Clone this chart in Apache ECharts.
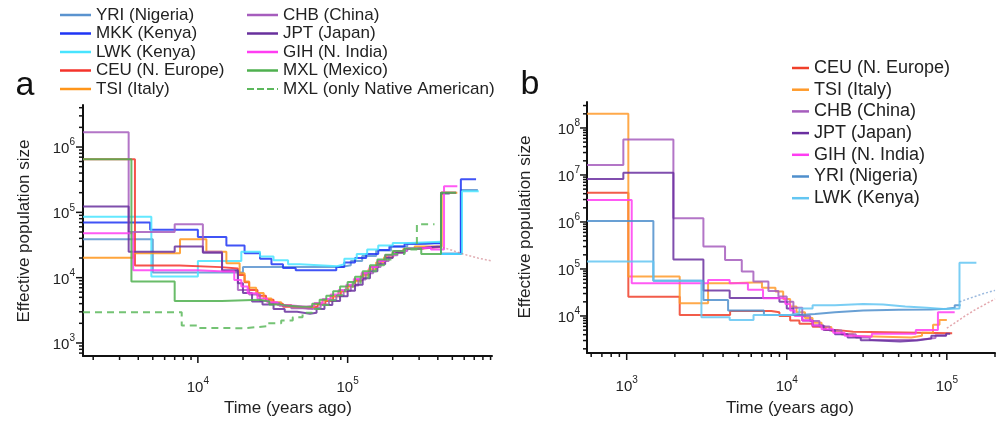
<!DOCTYPE html>
<html><head><meta charset="utf-8">
<script src="https://cdn.jsdelivr.net/npm/echarts@6/dist/echarts.min.js"></script>
<style>html,body{margin:0;padding:0;background:#fff}#c{width:998px;height:422px}</style>
</head><body><div id="c"></div>
<script>
// ---------- Panel a data: [time (years ago), effective population size] ----------
const yriA = [[1710,3.87e4],[5000,1.2e4],[2.0e4,1.45e4],[9.0e4,1.55e4],[1.05e5,1.8e4],[1.25e5,2.15e4],[1.55e5,2.6e4],[1.95e5,3.0e4],[2.5e5,3.3e4],[3.3e5,3.45e4],[4.2e5,2.35e4],[5.7e5,2.2e5],[7.4e5,2.2e5]];
const mkkA = [[1710,7.0e4],[4800,5.4e4],[1.0e4,4.2e4],[1.55e4,3.1e4],[2.05e4,2.36e4],[2.6e4,1.95e4],[3.1e4,1.6e4],[3.7e4,1.4e4],[4.5e4,1.3e4],[8.4e4,1.45e4],[9.5e4,1.7e4],[1.12e5,2.0e4],[1.33e5,2.3e4],[1.6e5,2.65e4],[1.9e5,3.0e4],[2.4e5,3.3e4],[3.0e5,3.4e4],[4.2e5,2.3e4],[5.7e5,3.2e5],[7.2e5,3.2e5]];
const lwkA = [[1710,8.6e4],[4890,1.04e4],[1.0e4,1.8e4],[1.95e4,2.5e4],[2.6e4,2.1e4],[3.2e4,1.85e4],[4.0e4,1.6e4],[4.8e4,1.5e4],[8.5e4,1.6e4],[9.5e4,1.95e4],[1.15e5,2.3e4],[1.35e5,2.7e4],[1.6e5,3.1e4],[2.0e5,3.4e4],[2.6e5,3.55e4],[4.2e5,2.3e4],[5.8e5,2.1e5],[7.5e5,2.1e5]];
const ceuA = [[1710,6.5e5],[3800,1.53e4],[7550,1.45e4],[1.43e4,1.38e4],[1.85e4,1.1e4],[2.05e4,8.5e3],[2.2e4,6.5e3],[2.5e4,5.3e3],[2.85e4,4.6e3],[3.2e4,4.0e3],[3.7e4,3.6e3],[4.3e4,3.4e3],[5.5e4,3.6e3],[6.3e4,3.9e3],[7.1e4,4.4e3],[8.0e4,5.2e3],[9.0e4,6.2e3],[1.0e5,7.5e3],[1.12e5,9.2e3],[1.26e5,1.15e4],[1.41e5,1.45e4],[1.6e5,1.8e4],[1.8e5,2.2e4],[2.05e5,2.5e4],[2.4e5,2.75e4],[2.9e5,2.95e4],[4.2e5,2.0e5],[5.3e5,2.0e5]];
const tsiA = [[1710,2.02e4],[3700,2.36e4],[7600,3.87e4],[1.14e4,2.5e4],[1.55e4,1.66e4],[1.9e4,1.17e4],[2.05e4,8.7e3],[2.2e4,7.0e3],[2.45e4,5.8e3],[2.75e4,4.8e3],[3.1e4,4.2e3],[3.6e4,3.8e3],[4.2e4,3.5e3],[5.2e4,3.6e3],[6.0e4,4.0e3],[6.8e4,4.5e3],[7.7e4,5.2e3],[8.7e4,6.2e3],[9.8e4,7.3e3],[1.1e5,8.8e3],[1.23e5,1.08e4],[1.38e5,1.35e4],[1.55e5,1.7e4],[1.75e5,2.05e4],[2.0e5,2.45e4],[2.35e5,2.75e4],[2.8e5,3.0e4],[4.25e5,2.0e5],[5.4e5,2.0e5]];
const chbA = [[1710,1.69e6],[3450,5.0e4],[7000,6.6e4],[1.08e4,2.5e4],[1.45e4,1.25e4],[1.85e4,6.5e3],[2.2e4,5.5e3],[2.6e4,4.4e3],[3.0e4,4.1e3],[3.5e4,3.7e3],[4.2e4,3.4e3],[5.0e4,3.3e3],[5.8e4,3.5e3],[6.6e4,3.9e3],[7.5e4,4.5e3],[8.4e4,5.3e3],[9.4e4,6.3e3],[1.05e5,7.6e3],[1.18e5,9.4e3],[1.32e5,1.17e4],[1.48e5,1.45e4],[1.66e5,1.8e4],[1.88e5,2.2e4],[2.15e5,2.55e4],[2.5e5,2.8e4],[3.0e5,3.0e4],[4.2e5,2.0e5],[5.3e5,2.0e5]];
const jptA = [[1710,1.23e5],[3450,2.5e4],[7000,2.99e4],[1.08e4,2.4e4],[1.45e4,1.3e4],[1.85e4,8.2e3],[2.0e4,5.8e3],[2.3e4,4.3e3],[2.7e4,3.9e3],[3.2e4,3.3e3],[3.8e4,3.0e3],[4.6e4,2.8e3],[5.6e4,2.9e3],[6.2e4,3.3e3],[7.0e4,3.8e3],[7.9e4,4.4e3],[8.9e4,5.2e3],[1.0e5,6.3e3],[1.12e5,7.8e3],[1.26e5,9.8e3],[1.41e5,1.25e4],[1.58e5,1.6e4],[1.78e5,2.0e4],[2.0e5,2.4e4],[2.4e5,2.75e4],[2.9e5,2.95e4],[3.6e5,3.0e4],[4.2e5,1.95e5],[4.8e5,1.95e5]];
const gihA = [[1710,4.78e4],[3700,1.3e4],[1.0e4,1.24e4],[1.5e4,1.25e4],[1.75e4,9.2e3],[1.95e4,7.3e3],[2.15e4,5.75e3],[2.5e4,4.8e3],[2.9e4,4.2e3],[3.4e4,3.8e3],[3.9e4,3.6e3],[5.3e4,3.7e3],[6.0e4,4.1e3],[6.8e4,4.7e3],[7.7e4,5.5e3],[8.7e4,6.5e3],[9.8e4,7.8e3],[1.1e5,9.5e3],[1.24e5,1.18e4],[1.4e5,1.45e4],[1.58e5,1.8e4],[1.78e5,2.2e4],[2.05e5,2.55e4],[2.45e5,2.8e4],[3.0e5,2.9e4],[3.6e5,2.7e4],[4.4e5,2.5e5],[5.4e5,2.5e5]];
const mxlA = [[1710,6.5e5],[3600,8.7e3],[7000,4.4e3],[1.45e4,4.6e3],[2.6e4,4.3e3],[3.0e4,3.9e3],[3.5e4,3.7e3],[4.1e4,3.6e3],[5.0e4,3.6e3],[5.8e4,4.0e3],[6.5e4,4.6e3],[7.2e4,5.3e3],[8.0e4,6.2e3],[8.9e4,7.3e3],[1.0e5,8.6e3],[1.12e5,1.03e4],[1.26e5,1.25e4],[1.41e5,1.55e4],[1.58e5,1.9e4],[1.78e5,2.25e4],[2.0e5,2.55e4],[2.4e5,2.8e4],[3.1e5,2.3e4],[4.2e5,2.0e5],[5.3e5,2.0e5]];
const mxlNatA = [[1710,2.95e3],[7800,1.85e3],[1.0e4,1.7e3],[1.33e4,1.68e3],[2.0e4,1.8e3],[2.87e4,2.0e3],[3.6e4,2.2e3],[4.3e4,2.47e3],[5.0e4,2.9e3],[5.8e4,3.3e3],[6.6e4,3.8e3],[7.5e4,4.5e3],[8.5e4,5.4e3],[9.6e4,6.6e3],[1.08e5,8.2e3],[1.22e5,1.0e4],[1.38e5,1.25e4],[1.55e5,1.55e4],[1.75e5,1.9e4],[2.0e5,2.3e4],[2.4e5,2.7e4],[2.9e5,6.6e4],[3.8e5,6.6e4]];
const fadeA = [[4.3e5,2.9e4],[4.8e5,2.7e4],[5.3e5,2.5e4],[5.9e5,2.3e4],[6.6e5,2.15e4],[7.4e5,2.0e4],[8.2e5,1.9e4],[9.2e5,1.8e4]];

// ---------- Panel b data ----------
const ceuB = [[565,4.2e6],[1024,2.58e4],[2144,1.05e4],[4428,1.28e4],[8000,1.2e4],[9000,1.0e4],[1.05e4,8.0e3],[1.2e4,6.8e3],[1.45e4,5.9e3],[1.75e4,5.0e3],[2.1e4,4.6e3],[2.6e4,4.3e3],[1.08e5,4.3e3]];
const tsiB = [[565,2.0e8],[1024,6.9e4],[2144,1.86e4],[3225,4.96e4],[4400,5.2e4],[7000,4.0e4],[8500,3.3e4],[9500,2.3e4],[1.05e4,1.6e4],[1.15e4,1.2e4],[1.3e4,9.0e3],[1.45e4,7.2e3],[1.65e4,5.8e3],[1.9e4,4.8e3],[2.2e4,4.1e3],[2.6e4,3.7e3],[3.1e4,3.5e3],[6.0e4,3.8e3],[7.0e4,4.4e3],[8.2e4,6.5e3],[9.0e4,8.2e3],[1.0e5,8.2e3]];
const chbB = [[565,1.63e7],[953,5.7e7],[1958,1.2e6],[3015,3.0e5],[4116,1.55e5],[5236,8.8e4],[6190,5.4e4],[7680,3.4e4],[8870,2.6e4],[1.0e4,2.0e4],[1.1e4,1.5e4],[1.25e4,1.0e4],[1.4e4,7.8e3],[1.6e4,6.0e3],[1.85e4,4.9e3],[2.2e4,4.1e3],[2.7e4,3.5e3],[3.3e4,3.1e3],[5.0e4,3.1e3],[6.5e4,3.4e3],[8.5e4,3.9e3],[1.0e5,3.9e3]];
const jptB = [[565,8.2e6],[953,1.12e7],[1958,1.6e5],[3015,3.5e4],[4400,2.4e4],[9000,2.0e4],[1.0e4,1.45e4],[1.1e4,1.05e4],[1.25e4,8.0e3],[1.45e4,6.3e3],[1.7e4,5.0e3],[2.0e4,4.1e3],[2.4e4,3.5e3],[2.9e4,3.05e3],[3.4e4,2.85e3],[5.1e4,3.0e3],[6.5e4,3.3e3],[8.0e4,3.8e3],[9.9e4,4.2e3],[1.05e5,4.2e3]];
const gihB = [[565,2.94e6],[1075,4.96e4],[3225,5.8e4],[4400,4.96e4],[5720,3.6e4],[7110,2.38e4],[9800,1.8e4],[1.05e4,1.3e4],[1.12e4,1.0e4],[1.25e4,8.0e3],[1.45e4,6.3e3],[1.65e4,5.2e3],[1.95e4,4.4e3],[2.3e4,3.8e3],[2.6e4,3.6e3],[3.4e4,4.2e3],[6.4e4,5.0e3],[8.8e4,1.2e4],[1.12e5,1.2e4]];
const yriB = [[565,1.05e6],[1468,5.6e4],[3015,2.2e4],[4300,1.3e4],[7200,1.05e4],[1.2e4,1.1e4],[1.5e4,1.2e4],[2.0e4,1.3e4],[3.0e4,1.35e4],[5.0e4,1.38e4],[8.0e4,1.42e4],[1.0e5,1.5e4],[1.12e5,1.7e4],[1.22e5,1.7e4]];
const lwkB = [[565,1.45e5],[1468,5.6e4],[2930,9.4e3],[4400,8.2e3],[6200,1.05e4],[1.05e4,1.15e4],[1.2e4,1.45e4],[1.45e4,1.7e4],[2.0e4,1.8e4],[3.0e4,1.75e4],[4.0e4,1.6e4],[5.5e4,1.5e4],[7.5e4,1.4e4],[9.5e4,1.45e4],[1.2e5,1.35e5],[1.53e5,1.35e5]];
const fadeB1 = [[1.2e5,2.0e4],[1.35e5,2.3e4],[1.5e5,2.6e4],[1.7e5,3.0e4],[2.0e5,3.5e4]];
const fadeB2 = [[1.0e5,5.5e3],[1.15e5,7.5e3],[1.3e5,1.0e4],[1.5e5,1.35e4],[1.75e5,1.8e4],[2.0e5,2.3e4]];

// ---------- axes ranges & text ----------
const xRangeA = [1710, 9.2e5], yRangeA = [632, 4.4e6];
const xRangeB = [565, 2.0e5], yRangeB = [1630, 3.57e8];
const legendA1 = ['YRI (Nigeria)','MKK (Kenya)','LWK (Kenya)','CEU (N. Europe)','TSI (Italy)'];
const legendA2 = ['CHB (China)','JPT (Japan)','GIH (N. India)','MXL (Mexico)','MXL (only Native American)'];
const legendB = ['CEU (N. Europe)','TSI (Italy)','CHB (China)','JPT (Japan)','GIH (N. India)','YRI (Nigeria)','LWK (Kenya)'];

const FONT = '"Liberation Sans", Arial, Helvetica, sans-serif';
const TXT = '#222';
const DASH_ICON = 'path://M0,0h7v2h-7z M10,0h7v2h-7z M20,0h7v2h-7z M30,0h1v2h-1z';

function isPow10(v){ const l = Math.log10(v); return Math.abs(l - Math.round(l)) < 1e-6; }
function fmt(v){ if(!isPow10(v)) return ''; return '{b|10}{e|' + Math.round(Math.log10(v)) + '}'; }
const rich = {
  b:{fontSize:15, lineHeight:19, verticalAlign:'bottom', color:TXT, fontFamily:FONT},
  e:{fontSize:10, lineHeight:12, verticalAlign:'top', color:TXT, fontFamily:FONT}
};
function ticks(xr, yr){
  const out = [];
  for(let n=Math.floor(Math.log10(xr[0])); n<=Math.ceil(Math.log10(xr[1])); n++)
    for(let k=1;k<=9;k++){ const v=k*Math.pow(10,n); if(v>=xr[0]&&v<=xr[1]) out.push([v, yr[0], k===1?1:0]); }
  for(let n=Math.floor(Math.log10(yr[0])); n<=Math.ceil(Math.log10(yr[1])); n++)
    for(let k=1;k<=9;k++){ const v=k*Math.pow(10,n); if(v>=yr[0]&&v<=yr[1]) out.push([xr[0], v, k===1?3:2]); }
  return out;
}
function tickSeries(gi, xr, yr){
  return {type:'custom', xAxisIndex:gi, yAxisIndex:gi, silent:true, z:10, clip:false,
    encode:{x:0,y:1}, data: ticks(xr, yr),
    renderItem:function(params, api){
      const kind = api.value(2);
      const p = api.coord([api.value(0), api.value(1)]);
      let x2=p[0], y2=p[1];
      if(kind<2) y2 = p[1] + (kind===1?7:4); else x2 = p[0] - (kind===3?7:4);
      return {type:'line', shape:{x1:p[0], y1:p[1], x2:x2, y2:y2}, style:{stroke:'#111', lineWidth:1.5}};
    }};
}
function stepLine(name, data, color, gi, extra){
  return Object.assign({type:'line', name:name, data:data, step:'end', xAxisIndex:gi, yAxisIndex:gi,
    symbol:'none', lineStyle:{color:color, width:2, opacity:0.85}, itemStyle:{color:color}, z:3}, extra||{});
}
function axisX(gi, r, margin){
  return {type:'log', gridIndex:gi, min:r[0], max:r[1], logBase:10,
    axisLine:{show:true, onZero:false, lineStyle:{color:'#111', width:2}},
    axisTick:{show:false}, splitLine:{show:false}, minorTick:{show:false},
    axisLabel:{formatter:fmt, rich:rich, margin:margin, color:TXT}};
}
function axisY(gi, r, margin){
  return {type:'log', gridIndex:gi, min:r[0], max:r[1], logBase:10,
    axisLine:{show:true, onZero:false, lineStyle:{color:'#111', width:2}},
    axisTick:{show:false}, splitLine:{show:false}, minorTick:{show:false},
    axisLabel:{formatter:fmt, rich:rich, margin:margin, color:TXT}};
}
const legText = (fs)=>({fontSize:fs, lineHeight:fs, color:TXT, fontFamily:FONT});

const chart = echarts.init(document.getElementById('c'), null, {renderer:'canvas'});
const option = {
  animation:false,
  backgroundColor:'#fff',
  textStyle:{fontFamily:FONT},
  grid:[
    {left:83, top:105, width:409, height:251},
    {left:587, top:102, width:408, height:251}
  ],
  xAxis:[axisX(0, xRangeA, 20), axisX(1, xRangeB, 22)],
  yAxis:[axisY(0, yRangeA, 8), axisY(1, yRangeB, 7)],
  legend:[
    {orient:'vertical', left:60, top:6.5, padding:0, itemWidth:31, itemHeight:2.5, itemGap:1.5, selectedMode:false, icon:'rect',
      data:legendA1, textStyle:legText(17)},
    {orient:'vertical', left:247, top:6.5, padding:0, itemWidth:31, itemHeight:2.5, itemGap:1.5, selectedMode:false, icon:'rect',
      data:legendA2.map(n=> n==='MXL (only Native American)' ? {name:n, icon:DASH_ICON} : n), textStyle:legText(17)},
    {orient:'vertical', left:792, top:59, padding:0, itemWidth:17, itemHeight:2.5, itemGap:3.7, selectedMode:false, icon:'rect',
      data:legendB.map(n=>'b·'+n), formatter:(n)=>n.replace(/^b·/,''), textStyle:legText(18)}
  ],
  graphic:[
    {type:'text', x:25, y:86, style:{text:'a', fontSize:34, fontFamily:FONT, fill:'#111', align:'center', verticalAlign:'middle'}},
    {type:'text', x:530, y:85, style:{text:'b', fontSize:34, fontFamily:FONT, fill:'#111', align:'center', verticalAlign:'middle'}},
    {type:'text', x:288, y:408, style:{text:'Time (years ago)', fontSize:17, fontFamily:FONT, fill:TXT, align:'center', verticalAlign:'middle'}},
    {type:'text', x:790, y:408, style:{text:'Time (years ago)', fontSize:17, fontFamily:FONT, fill:TXT, align:'center', verticalAlign:'middle'}},
    {type:'text', x:24, y:231, rotation:Math.PI/2, style:{text:'Effective population size', fontSize:17, fontFamily:FONT, fill:TXT, align:'center', verticalAlign:'middle'}},
    {type:'text', x:525, y:227, rotation:Math.PI/2, style:{text:'Effective population size', fontSize:17, fontFamily:FONT, fill:TXT, align:'center', verticalAlign:'middle'}}
  ],
  series:[
    stepLine('YRI (Nigeria)', yriA, '#5a93cf', 0),
    stepLine('MKK (Kenya)', mkkA, '#1f35f5', 0),
    stepLine('LWK (Kenya)', lwkA, '#48e4ff', 0),
    stepLine('CEU (N. Europe)', ceuA, '#f5332b', 0),
    stepLine('TSI (Italy)', tsiA, '#ff951a', 0),
    stepLine('CHB (China)', chbA, '#a65dbd', 0),
    stepLine('JPT (Japan)', jptA, '#68309d', 0),
    stepLine('GIH (N. India)', gihA, '#ff3df2', 0),
    stepLine('MXL (Mexico)', mxlA, '#4fb04f', 0),
    stepLine('MXL (only Native American)', mxlNatA, '#5cb85c', 0, {lineStyle:{color:'#5cb85c', width:2, type:[7,5], opacity:0.85}}),
    {type:'line', name:'fadeA', data:fadeA, xAxisIndex:0, yAxisIndex:0, symbol:'none', silent:true,
      lineStyle:{color:'rgba(205,120,130,0.6)', width:1.5, type:[2,2]}},
    stepLine('b·CEU (N. Europe)', ceuB, '#f0402a', 1),
    stepLine('b·TSI (Italy)', tsiB, '#ff9a2a', 1),
    stepLine('b·CHB (China)', chbB, '#a65dbd', 1),
    stepLine('b·JPT (Japan)', jptB, '#6a2fa0', 1),
    stepLine('b·GIH (N. India)', gihB, '#ff3df2', 1),
    stepLine('b·YRI (Nigeria)', yriB, '#4f8fcc', 1),
    stepLine('b·LWK (Kenya)', lwkB, '#63c6f2', 1),
    {type:'line', name:'fadeB1', data:fadeB1, xAxisIndex:1, yAxisIndex:1, symbol:'none', silent:true,
      lineStyle:{color:'rgba(90,140,200,0.6)', width:1.5, type:[2,2]}},
    {type:'line', name:'fadeB2', data:fadeB2, xAxisIndex:1, yAxisIndex:1, symbol:'none', silent:true,
      lineStyle:{color:'rgba(210,110,120,0.6)', width:1.5, type:[2,2]}},
    tickSeries(0, xRangeA, yRangeA),
    tickSeries(1, xRangeB, yRangeB)
  ]
};
chart.setOption(option);
</script>
</body></html>
